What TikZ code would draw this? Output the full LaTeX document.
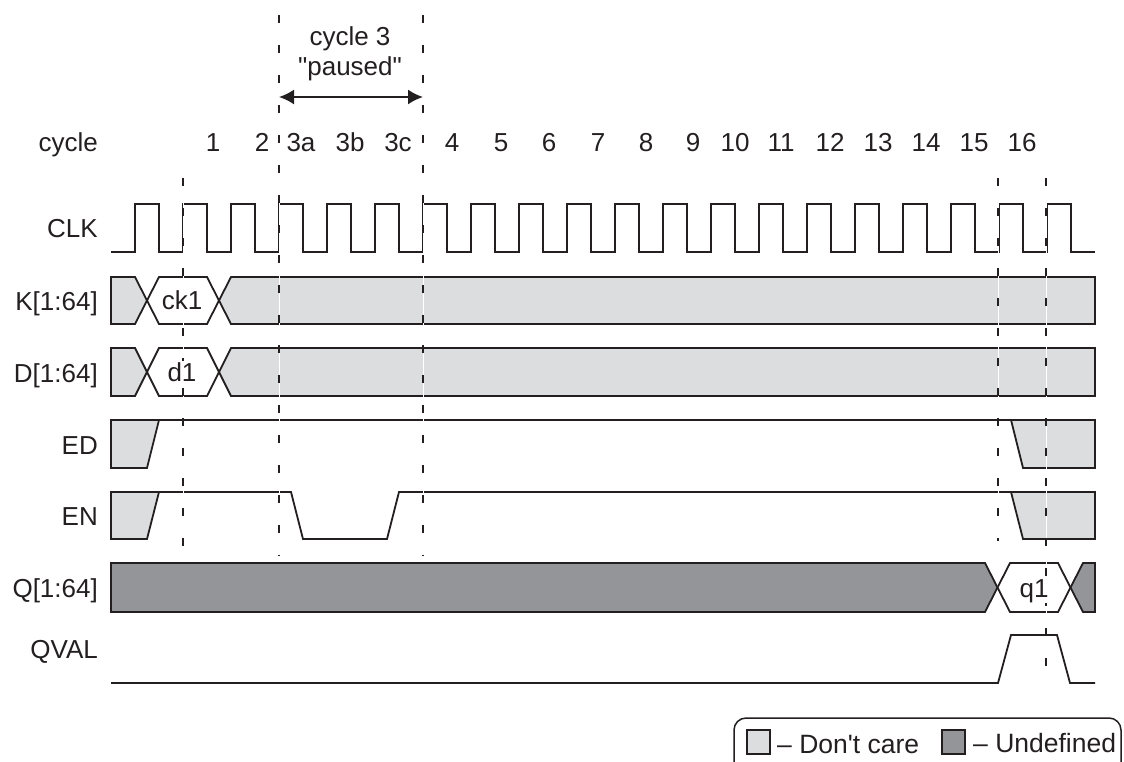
\documentclass[tikz,border=0pt]{standalone}
\usepackage{fontspec}
\setmainfont{Liberation Sans}[Ligatures=TeXOff]
\usetikzlibrary{arrows.meta}
\definecolor{ink}{HTML}{231F20}
\definecolor{dcare}{HTML}{DCDDDE}
\definecolor{undef}{HTML}{939598}
\tikzset{
  sig/.style={draw=ink, line width=1.8pt},
  dc/.style={sig, fill=dcare},
  ud/.style={sig, fill=undef},
  lbl/.style={text=ink, font=\fontsize{26}{30}\selectfont, inner sep=0pt},
  leglbl/.style={lbl, font=\fontsize{26.5}{30}\selectfont},
  buslbl/.style={lbl, fill=white, inner sep=1pt},
  guide/.style={draw=ink, line width=1.6pt, dash pattern=on 8pt off 22pt},
  gapline/.style={draw=white, line width=1pt},
  span/.style={draw=ink, line width=1.8pt, {Latex[length=15pt,width=15pt]}-{Latex[length=15pt,width=15pt]}},
}
\begin{document}
\begin{tikzpicture}[x=1pt,y=-1pt]
\useasboundingbox (0,0) rectangle (1124,761);

% ---------- left labels ----------
\node[lbl, anchor=base east] (lcycle) at (98,151) {cycle};
\node[lbl, anchor=base east] (lclk) at (98,237) {CLK};
\node[lbl, anchor=base east] (lk) at (98,310) {K[1:64]};
\node[lbl, anchor=base east] (ld) at (98,382) {D[1:64]};
\node[lbl, anchor=base east] (led) at (98,454) {ED};
\node[lbl, anchor=base east] (len) at (98,525) {EN};
\node[lbl, anchor=base east] (lq) at (98,597) {Q[1:64]};
\node[lbl, anchor=base east] (lqval) at (98,658) {QVAL};

% ---------- cycle numbers ----------
\foreach \x/\t [count=\i] in {213/1, 262/2, 301/3a, 350/3b, 398/3c, 452/4, 501/5, 549/6, 598/7, 646/8, 693/9, 735/10, 781/11, 830/12, 878/13, 926/14, 974/15, 1022/16}
  \node[lbl, anchor=base] (c\i) at (\x,151) {\t};

% ---------- CLK ----------
\draw[sig] (111,252) -- (135,252)
  \foreach \k in {0,...,19} { -- ({135+48*\k},252) -- ({135+48*\k},204) -- ({159+48*\k},204) -- ({159+48*\k},252) -- ({183+48*\k},252) };

% ---------- K[1:64] ----------
\filldraw[dc] (111,277) -- (135,277) -- (147,300.5) -- (135,324) -- (111,324) -- cycle;
\draw[sig, fill=white] (147,300.5) -- (159,277) -- (207,277) -- (219,300.5) -- (207,324) -- (159,324) -- cycle;
\filldraw[dc] (1095,277) -- (231,277) -- (219,300.5) -- (231,324) -- (1095,324) -- cycle;

% ---------- D[1:64] ----------
\filldraw[dc] (111,348) -- (135,348) -- (147,372) -- (135,396) -- (111,396) -- cycle;
\draw[sig, fill=white] (147,372) -- (159,348) -- (207,348) -- (219,372) -- (207,396) -- (159,396) -- cycle;
\filldraw[dc] (1095,348) -- (231,348) -- (219,372) -- (231,396) -- (1095,396) -- cycle;

% ---------- ED ----------
\filldraw[dc] (111,420) -- (159,420) -- (147,468) -- (111,468) -- cycle;
\draw[sig] (159,420) -- (1011,420);
\filldraw[dc] (1011,420) -- (1095,420) -- (1095,468) -- (1023,468) -- cycle;

% ---------- EN ----------
\filldraw[dc] (111,492) -- (159,492) -- (147,539) -- (111,539) -- cycle;
\draw[sig] (159,492) -- (291,492) -- (303,539) -- (387,539) -- (399,492) -- (1011,492);
\filldraw[dc] (1011,492) -- (1095,492) -- (1095,539) -- (1023,539) -- cycle;

% ---------- Q[1:64] ----------
\filldraw[ud] (111,563) -- (985,563) -- (997.5,587.5) -- (985,612) -- (111,612) -- cycle;
\draw[sig, fill=white] (997.5,587.5) -- (1010,563) -- (1058,563) -- (1070.5,587.5) -- (1058,612) -- (1010,612) -- cycle;
\filldraw[ud] (1070.5,587.5) -- (1083,563) -- (1095,563) -- (1095,612) -- (1083,612) -- cycle;

% ---------- QVAL ----------
\draw[sig] (111,683) -- (998,683) -- (1011,635) -- (1057,635) -- (1070,683) -- (1095,683);

% ---------- guide lines ----------
\foreach \x/\a/\b in {183/178/556, 279/15/556, 423/15/556, 998/178/541, 1046/178/680} {
  \draw[gapline] (\x,\a) -- (\x,\b);
  \draw[guide] (\x,\a) -- (\x,\b);
}

% ---------- bus value labels (over the guides) ----------
\node[buslbl, anchor=base] (ck1) at (182,309) {ck1};
\node[buslbl, anchor=base] (d1) at (182,381) {d1};
\node[buslbl, anchor=base] (q1) at (1034,597) {q1};

% ---------- paused annotation ----------
\node[lbl, anchor=base] (pc3) at (350,45) {cycle 3};
\node[lbl, anchor=base] (pp) at (350,75) {"paused"};
\coordinate (pl) at (279,97);
\coordinate (pr) at (423,97);
\draw[span] (pl) -- (pr);

% ---------- legend ----------
\draw[sig, line width=1.5pt, rounded corners=12pt] (734,800) -- (734,718) -- (1121,718) -- (1121,800);
\filldraw[dc, line width=1.5pt] (747,730) rectangle (770,754);
\node[leglbl, anchor=base west] (ldc) at (777,753) {– Don't care};
\filldraw[ud, line width=1.5pt] (942,730) rectangle (965,754);
\node[leglbl, anchor=base west] (lud) at (973,752) {– Undefined};
\end{tikzpicture}
\end{document}
